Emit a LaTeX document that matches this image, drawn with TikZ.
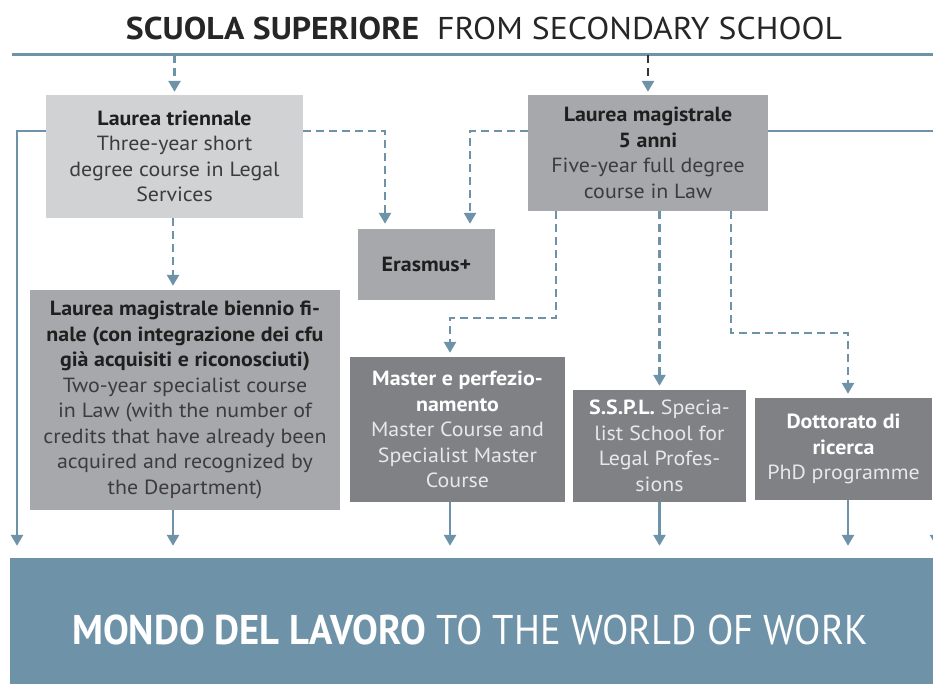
\documentclass[tikz,border=0pt]{standalone}
\usepackage{fontspec}
\setmainfont{PT Sans}[FakeStretch=1.07]
\newfontfamily\bandfont{PT Sans}[FakeStretch=0.93]
\usetikzlibrary{arrows.meta,positioning}

\definecolor{steel}{HTML}{6E93A8}
\definecolor{boxlight}{HTML}{D1D2D4}
\definecolor{boxmid}{HTML}{A7A8AB}
\definecolor{boxdark}{HTML}{808184}
\definecolor{txtgray}{HTML}{3C3C3E}
\definecolor{txtpale}{HTML}{E8E8E8}

\newcommand{\hd}[1]{{\bfseries\color{black!88}#1}}
\newcommand{\hdw}[1]{{\bfseries\color{white}#1}}

\tikzset{
  box/.style={rectangle, inner sep=0pt, align=center, text=txtgray,
    font=\fontsize{20.5}{25.5}\selectfont},
  lightbox/.style={box, fill=boxlight},
  midbox/.style={box, fill=boxmid},
  darkbox/.style={box, fill=boxdark, text=txtpale},
  link/.style={draw=steel, line width=2.6pt,
    -{Triangle[width=12pt,length=11pt,color=steel]}},
  dlink/.style={link, dash pattern=on 8pt off 5pt},
}

\begin{document}
\begin{tikzpicture}[x=1pt,y=-1pt]
\clip (0,0) rectangle (933,684);

%Title and school line
\node (title) at (484,28) {\fontsize{31.5}{36}\selectfont\color{black!85}%
  \textbf{SCUOLA SUPERIORE}\ \ FROM SECONDARY SCHOOL};
\coordinate (schoolL) at (12,55);
\coordinate (schoolR) at (933,55);
\draw[steel, line width=3pt] (schoolL) -- (schoolR);

% Degree boxes
\node[lightbox, minimum width=257pt, minimum height=123pt] (triennale) at (174.5,156.5)
  {\hd{Laurea triennale}\\Three-year short\\degree course in Legal\\Services};
\node[midbox, minimum width=240pt, minimum height=116pt] (magistrale) at (648,153)
  {\hd{Laurea magistrale}\\\hd{5 anni}\\Five-year full degree\\course in Law};
\node[midbox, minimum width=137pt, minimum height=71pt] (erasmus) at (426.5,264.5)
  {\hd{Erasmus+}};
\node[midbox, minimum width=310pt, minimum height=220pt] (biennio) at (185,400)
  {\hd{Laurea magistrale biennio fi-}\\\hd{nale (con integrazione dei cfu}\\
   \hd{già acquisiti e riconosciuti)}\\Two-year specialist course\\
   in Law (with the number of\\credits that have already been\\
   acquired and recognized by\\the Department)};

% Post-graduate boxes
\node[darkbox, minimum width=215pt, minimum height=145pt] (master) at (457.5,429.5)
  {\hdw{Master e perfezio-}\\\hdw{namento}\\Master Course and\\Specialist Master\\Course};
\node[darkbox, minimum width=173pt, minimum height=112pt] (sspl) at (659.5,446)
  {\hdw{S.S.P.L.} Specia-\\list School for\\Legal Profes-\\sions};
\node[darkbox, minimum width=177pt, minimum height=102pt] (dottorato) at (843.5,449)
  {\hdw{Dottorato di}\\\hdw{ricerca}\\PhD programme};

% World of work band
\node[rectangle, fill=steel, minimum width=923pt, minimum height=126pt, inner sep=0pt]
  (work) at (471.5,621) {};
\node[text=white, font=\bandfont\fontsize{41.5}{46}\selectfont] (worktext) at (470,630)
  {\textbf{MONDO DEL LAVORO} TO THE WORLD OF WORK};

% rails and bend rows
\coordinate (rowA) at (0,131);
\coordinate (rowB) at (0,318);
\coordinate (rowC) at (0,333);
\coordinate (railL) at (17,0);
\coordinate (railR) at (936,0);
\coordinate (railT) at (173,0);
\coordinate (railE1) at (385,0);
\coordinate (railE2) at (470,0);
\coordinate (railM) at (450,0);
\coordinate (railF) at (556,0);
\coordinate (railG) at (731,0);
\coordinate (railD) at (848,0);

% From school to first degrees
\draw[dlink, shorten >=3pt] (triennale.north |- schoolL) -- (triennale.north);
\draw[dlink, draw=black!80, shorten >=3pt] (magistrale.north |- schoolL) -- (magistrale.north);

% From first degrees
\draw[link, shorten >=12pt] (triennale.west |- rowA) -| (railL |- work.north);
\draw[link, shorten >=12pt] (magistrale.east |- rowA) -| (railR |- work.north);
\draw[dlink, shorten >=5pt] (triennale.east |- rowA) -| (railE1 |- erasmus.north);
\draw[dlink, shorten >=5pt] (magistrale.west |- rowA) -| (railE2 |- erasmus.north);
\draw[dlink, shorten >=4pt] (triennale.south -| railT) -- (railT |- biennio.north);
\draw[dlink, shorten >=4pt] (magistrale.south -| railF) -- (railF |- rowB) -| (railM |- master.north);
\draw[dlink, shorten >=4pt] (magistrale.south -| sspl.north) -- (sspl.north);
\draw[dlink, shorten >=4pt] (magistrale.south -| railG) -- (railG |- rowC) -| (railD |- dottorato.north);

% To the world of work
\draw[link, shorten >=12pt] (biennio.south -| railT) -- (railT |- work.north);
\draw[link, shorten >=12pt] (master.south -| railM) -- (railM |- work.north);
\draw[link, shorten >=12pt] (sspl.south) -- (sspl.south |- work.north);
\draw[link, shorten >=12pt] (dottorato.south -| railD) -- (railD |- work.north);
\end{tikzpicture}
\end{document}
